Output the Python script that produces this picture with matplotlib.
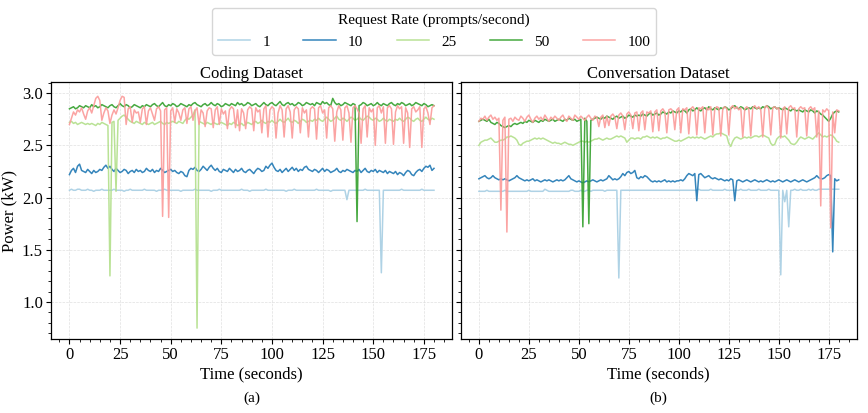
import matplotlib.pyplot as plt
import numpy as np
from matplotlib.ticker import AutoMinorLocator

plt.rcParams['font.family'] = ['Liberation Serif', 'DejaVu Serif']
plt.rcParams['mathtext.fontset'] = 'stix'

# sampled once per second, 0..180 s ; values in 1/100 kW
t = np.arange(181)

rates = ['1', '10', '25', '50', '100']
colors = ['#a6cee3', '#1f78b4', '#b2df8a', '#33a02c', '#fb9a99']

# ---- coding dataset ----
coding_1 = [
    207,208,207,207,208,208,207,207,207,208,207,207,206,207,207,207,208,207,207,207,
    207,207,208,207,207,207,207,206,207,207,208,207,207,207,207,207,207,208,207,207,
    207,207,207,206,207,207,207,208,207,207,207,207,207,207,207,206,207,207,207,207,
    207,207,208,207,207,207,207,207,207,207,206,207,207,207,208,207,207,207,207,207,
    207,207,207,207,207,208,207,207,207,206,207,207,207,207,207,207,207,208,207,207,
    207,207,207,207,207,207,207,206,207,207,207,208,207,207,207,207,207,207,207,207,
    207,207,208,207,207,207,207,207,207,206,207,207,207,207,207,207,207,198,207,207,
    207,207,207,207,207,207,208,207,207,207,207,207,207,207,128,207,207,207,207,207,
    207,207,207,207,208,207,207,207,207,207,207,207,207,207,208,207,207,207,207,207,207]
coding_10 = [
    222,226,228,224,230,232,226,225,224,227,225,223,226,224,225,227,226,229,231,228,
    230,227,225,228,226,224,225,227,226,223,225,226,224,227,225,226,224,225,228,226,
    225,227,224,226,225,228,226,224,225,226,227,225,226,224,223,225,224,221,220,226,
    228,227,229,226,225,227,230,228,226,229,231,228,226,228,225,224,227,226,225,228,
    226,224,227,225,226,228,225,224,226,227,225,223,226,228,227,225,226,230,228,231,
    233,229,226,225,227,224,226,228,225,227,229,226,228,225,227,226,229,230,227,226,
    225,227,226,224,226,228,225,227,226,224,225,226,228,225,224,226,225,227,226,225,
    224,226,225,227,224,226,228,225,224,226,225,227,224,226,225,224,226,223,225,224,
    223,225,222,224,223,221,224,226,225,222,221,224,226,227,225,228,230,229,231,226,228]
coding_25 = [
    272,273,271,272,270,271,272,271,270,271,270,271,270,269,271,270,272,271,270,269,
    125,272,273,206,274,276,278,279,277,275,273,272,271,273,272,271,270,272,271,270,
    271,272,270,271,272,273,271,270,272,271,272,273,272,271,273,272,271,274,276,275,
    277,279,284,75,273,272,271,270,272,271,270,272,271,270,271,272,271,270,269,271,
    270,272,271,269,270,271,269,270,272,271,270,272,273,271,272,274,272,271,273,272,
    274,272,271,273,275,273,272,274,276,273,272,274,273,271,273,275,274,272,273,274,
    273,275,274,276,274,273,275,277,275,273,274,276,278,275,274,276,275,273,275,277,
    276,274,275,277,275,274,276,278,277,275,274,276,275,273,274,276,274,273,275,274,
    273,275,274,276,274,273,275,277,276,274,273,275,276,274,273,275,277,275,274,276,275]
coding_50 = [
    285,286,287,285,286,288,287,286,288,287,286,289,287,288,286,287,289,288,287,286,
    288,289,287,286,288,290,288,287,289,288,286,287,289,288,287,286,288,287,289,288,
    287,289,290,288,287,289,291,288,287,289,288,290,289,287,288,290,289,288,287,289,
    288,290,291,289,288,287,289,290,288,289,291,289,288,290,289,287,288,290,289,288,
    290,289,288,291,289,290,288,289,291,290,288,289,290,288,287,289,291,289,288,290,
    291,289,288,290,292,289,288,290,291,289,290,288,289,291,290,288,289,291,290,289,
    290,288,291,290,289,292,290,291,289,288,295,291,289,290,288,289,291,290,289,288,
    290,289,177,288,289,291,290,288,289,290,288,289,291,289,288,290,289,288,290,291,
    289,288,290,289,291,290,288,289,290,288,289,291,290,289,288,290,289,287,288,289,288]
coding_100 = [
    270,276,282,279,284,282,286,280,275,283,286,281,288,295,297,293,274,281,286,283,
    271,279,284,280,286,293,297,296,270,285,287,272,284,281,282,272,285,287,270,283,
    286,280,274,285,287,283,182,284,286,181,283,286,272,285,281,274,284,286,271,285,
    287,274,283,286,270,284,281,268,283,286,285,267,284,287,270,285,280,283,266,284,
    287,285,267,284,264,285,281,266,284,287,285,264,286,282,284,262,285,288,258,284,
    287,285,257,281,288,284,258,285,288,282,257,284,287,285,262,286,281,284,258,285,
    287,285,256,286,288,281,284,257,286,288,285,254,282,288,284,255,286,288,281,253,
    286,288,285,281,252,285,288,258,286,282,285,250,286,288,281,287,252,286,288,285,
    251,282,288,285,287,252,286,281,248,285,287,282,284,287,248,285,287,281,270,286,288]

# ---- conversation dataset ----
conv_1 = [
    206,206,206,206,207,206,206,206,206,206,206,206,206,207,206,206,206,206,206,206,
    206,206,206,206,206,207,206,206,206,206,206,206,206,208,207,206,206,206,206,206,
    206,206,206,206,206,206,207,207,206,206,206,207,206,206,207,207,206,207,207,207,
    207,207,207,206,207,207,207,207,207,207,123,207,207,207,207,207,207,207,207,207,
    207,207,207,207,207,207,207,207,207,207,207,207,207,207,207,207,207,207,207,207,
    207,207,207,207,207,207,207,207,207,207,208,207,207,207,207,207,208,207,207,207,
    207,207,207,208,207,207,207,207,207,207,207,208,207,207,207,208,207,207,207,207,
    208,207,207,207,207,208,207,207,207,207,207,126,207,196,207,172,207,207,208,207,
    207,208,207,207,207,208,207,208,207,207,208,208,208,208,208,208,208,208,208,208,208]
conv_10 = [
    218,219,220,221,219,218,219,221,219,218,217,218,217,218,217,216,217,218,219,221,
    219,218,217,216,217,216,217,218,216,217,216,215,216,217,216,217,216,215,216,217,
    216,217,216,217,219,221,218,217,216,215,216,215,214,215,216,215,216,217,216,215,
    216,217,216,217,218,221,219,217,218,217,218,220,223,221,224,225,223,224,226,219,
    218,220,219,221,220,218,216,215,216,215,216,215,216,217,215,216,215,216,215,216,
    216,217,216,218,221,223,222,221,223,197,222,223,221,219,220,221,219,218,219,218,
    217,218,217,216,217,216,218,217,197,216,217,216,215,216,217,216,215,216,217,216,
    215,216,215,216,217,216,215,216,215,216,217,216,215,216,217,216,215,216,217,216,
    215,216,217,216,215,216,217,218,219,221,219,218,218,219,221,222,221,148,218,216,217]
conv_25 = [
    250,253,254,255,255,256,257,255,253,253,254,255,255,256,258,258,259,258,257,255,
    251,250,252,253,254,254,255,256,257,256,257,256,257,256,255,254,253,252,253,252,
    252,251,252,253,252,251,251,250,251,252,253,254,254,253,254,253,254,255,256,256,
    257,256,255,256,257,256,256,257,258,259,258,259,258,257,253,255,257,257,256,257,
    257,256,258,258,259,258,257,258,257,258,257,256,257,257,258,257,256,255,254,254,
    255,254,255,256,257,258,257,258,257,258,257,258,257,256,257,258,259,258,260,261,
    261,262,261,260,259,252,249,254,257,258,257,256,257,258,257,258,257,258,259,259,
    258,259,260,259,258,257,252,250,251,256,258,259,258,259,257,255,252,251,251,253,
    256,258,257,256,257,258,257,256,258,260,262,260,258,259,258,259,260,259,257,254,253]
conv_50 = [
    273,274,275,274,273,275,272,271,270,272,271,269,268,267,268,269,268,270,271,270,
    271,272,271,273,272,274,273,272,274,273,272,274,273,275,274,273,274,275,273,274,
    275,274,273,275,274,276,275,274,275,273,274,275,172,276,273,175,274,275,276,277,
    276,275,277,276,278,277,276,275,277,278,276,277,278,276,277,279,278,277,279,278,
    279,278,280,279,278,280,281,279,280,281,279,280,282,281,280,282,281,283,282,281,
    283,282,284,283,281,284,285,283,284,286,284,283,285,286,284,287,285,284,286,285,
    284,286,285,287,286,284,285,287,288,286,285,287,286,284,285,286,285,287,286,285,
    286,285,287,286,288,287,285,286,287,285,286,285,284,286,285,284,283,285,284,283,
    284,283,282,284,283,282,284,283,281,283,282,280,279,277,275,273,276,280,282,283,282]
conv_100 = [
    273,276,275,278,274,277,279,275,277,274,276,188,274,277,167,275,276,273,277,275,
    274,278,276,273,277,279,275,272,276,278,275,277,274,279,276,273,277,275,278,276,
    274,277,279,275,273,278,276,274,279,277,275,278,276,274,277,279,276,274,278,277,
    268,277,279,267,278,269,278,280,277,266,279,281,278,265,280,282,279,266,281,282,
    264,281,283,265,282,281,283,263,282,284,264,283,285,282,262,284,285,283,265,284,
    286,262,285,284,286,261,285,287,284,260,286,285,287,262,286,284,287,260,285,287,
    286,259,285,287,285,260,286,288,285,287,284,286,258,285,287,285,259,286,288,285,
    287,284,258,286,288,285,260,286,287,285,286,257,285,287,261,286,288,285,286,258,
    285,287,285,286,259,285,287,284,286,258,283,192,284,282,285,283,171,282,262,284,283]

coding = [coding_1, coding_10, coding_25, coding_50, coding_100]
conv = [conv_1, conv_10, conv_25, conv_50, conv_100]
for s in coding + conv:
    assert len(s) == len(t), len(s)

fig = plt.figure(figsize=(8.68, 4.13), dpi=100)
ax1 = fig.add_axes([0.059, 0.179, 0.462, 0.622])
ax2 = fig.add_axes([0.531, 0.179, 0.456, 0.622], sharey=ax1)

for ax, data, title in [(ax1, coding, 'Coding Dataset'), (ax2, conv, 'Conversation Dataset')]:
    for lab, col, vals in zip(rates, colors, data):
        ax.plot(t, np.array(vals) / 100, color=col, lw=1.1, alpha=0.9, label=lab)
    ax.set_title(title, fontsize=12, pad=3)
    ax.set_xlabel('Time (seconds)', fontsize=12, labelpad=2)
    ax.set_xlim(-9, 189)
    ax.set_xticks([0, 25, 50, 75, 100, 125, 150, 175])
    ax.xaxis.set_minor_locator(AutoMinorLocator(5))
    ax.yaxis.set_minor_locator(AutoMinorLocator(5))
    ax.tick_params(which='major', direction='out', length=3.5, width=0.8, labelsize=12, pad=2.5)
    ax.tick_params(which='minor', direction='out', length=2, width=0.6)
    ax.grid(True, which='major', ls='--', lw=0.5, color='#cccccc', alpha=0.6)
    for sp in ax.spines.values():
        sp.set_linewidth(0.9)

ax1.set_ylim(0.645, 3.105)
ax1.set_yticks([1.0, 1.5, 2.0, 2.5, 3.0])
ax1.set_ylabel('Power (kW)', fontsize=12, labelpad=3)
ax2.tick_params(labelleft=False)

handles, labels = ax1.get_legend_handles_labels()
leg = fig.legend(handles, labels, loc='upper center', bbox_to_anchor=(0.5, 1.0),
                 ncol=5, fontsize=11, title='Request Rate (prompts/second)',
                 title_fontsize=11, frameon=True, fancybox=True, edgecolor='#cccccc',
                 handlelength=2.1, columnspacing=2.2, borderpad=0.4)

fig.text(0.29, 0.035, '(a)', ha='center', va='center', fontsize=11)
fig.text(0.759, 0.035, '(b)', ha='center', va='center', fontsize=11)

fig.savefig('out.png', dpi=100)
